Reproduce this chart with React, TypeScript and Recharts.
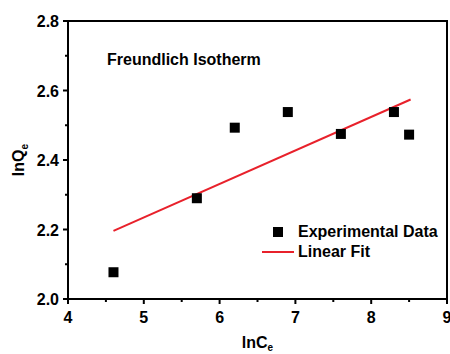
import React from 'react';
import { ComposedChart, Scatter, XAxis, YAxis, ReferenceArea } from 'recharts';

const lnCe = [4.6, 5.7, 6.2, 6.9, 7.6, 8.3, 8.5];
const lnQe = [2.077, 2.29, 2.493, 2.538, 2.475, 2.538, 2.473];
const fitX = [4.6, 8.52];
const fitY = [2.196, 2.574];
const xTicks = [4, 4.5, 5, 5.5, 6, 6.5, 7, 7.5, 8, 8.5, 9];
const yTicks = [2.0, 2.1, 2.2, 2.3, 2.4, 2.5, 2.6, 2.7, 2.8];
const xDomain = [4, 9];
const yDomain = [2.0, 2.8];

const points = lnCe.map((x, i) => ({ x, y: lnQe[i] }));
const fitLine = fitX.map((x, i) => ({ x, y: fitY[i] }));

const FONT = '"Liberation Sans", Arial, sans-serif';
const RED = '#e8212b';

const XTick = (props: any) => {
  const { x, y, payload } = props;
  const major = Math.abs(payload.value - Math.round(payload.value)) < 1e-6;
  return (
    <g>
      <line x1={x} x2={x} y1={y} y2={y + (major ? 5 : 3)} stroke="#000" strokeWidth={2} />
      {major && (
        <text x={x} y={y + 24} textAnchor="middle" fontFamily={FONT} fontWeight="bold" fontSize={16} fill="#000">
          {payload.value}
        </text>
      )}
    </g>
  );
};

const YTick = (props: any) => {
  const { x, y, payload } = props;
  const major = Math.round(payload.value * 10) % 2 === 0;
  return (
    <g>
      <line x1={x} x2={x - (major ? 5 : 3)} y1={y} y2={y} stroke="#000" strokeWidth={2} />
      {major && (
        <text x={x - 9} y={y + 6} textAnchor="end" fontFamily={FONT} fontWeight="bold" fontSize={16} fill="#000">
          {payload.value.toFixed(1)}
        </text>
      )}
    </g>
  );
};

const Square = (props: any) => {
  const { cx, cy } = props;
  return <rect x={cx - 5} y={cy - 5} width={10} height={10} fill="#000" />;
};

const NoShape = () => <g />;

const YLabel = (props: any) => {
  const { viewBox } = props;
  const cx = viewBox.x + 24;
  const cy = viewBox.y + viewBox.height / 2;
  return (
    <text
      x={cx}
      y={cy}
      transform={`rotate(-90 ${cx} ${cy})`}
      textAnchor="middle"
      fontFamily={FONT}
      fontWeight="bold"
      fontSize={16}
      fill="#000"
    >
      lnQ<tspan fontSize={10} dy={4}>e</tspan>
    </text>
  );
};

const XLabel = (props: any) => {
  const { viewBox } = props;
  return (
    <text
      x={viewBox.x + viewBox.width / 2}
      y={viewBox.y + 49}
      textAnchor="middle"
      fontFamily={FONT}
      fontWeight="bold"
      fontSize={16}
      fill="#000"
    >
      lnC<tspan fontSize={10} dy={3}>e</tspan>
    </text>
  );
};

const textStyle: React.CSSProperties = {
  position: 'absolute',
  fontFamily: FONT,
  fontWeight: 'bold',
  fontSize: 16,
  lineHeight: '16px',
  color: '#000',
  whiteSpace: 'nowrap',
};

export default function App() {
  return (
    <div style={{ position: 'absolute', left: 0, top: 0, width: 450, height: 354, background: '#fff' }}>
      <ComposedChart width={450} height={354} margin={{ top: 21, right: 3, bottom: 0, left: 0 }}>
        <XAxis
          type="number"
          dataKey="x"
          domain={xDomain}
          ticks={xTicks}
          tick={<XTick />}
          tickLine={false}
          tickSize={0}
          tickMargin={0}
          axisLine={{ stroke: '#000', strokeWidth: 2 }}
          height={55}
          interval={0}
          allowDataOverflow
          label={{ content: <XLabel /> }}
        />
        <YAxis
          type="number"
          dataKey="y"
          domain={yDomain}
          ticks={yTicks}
          tick={<YTick />}
          tickLine={false}
          tickSize={0}
          tickMargin={0}
          axisLine={{ stroke: '#000', strokeWidth: 2 }}
          width={68}
          interval={0}
          allowDataOverflow
          label={{ content: <YLabel /> }}
        />
        {/* plot frame */}
        <ReferenceArea
          x1={xDomain[0]}
          x2={xDomain[1]}
          y1={yDomain[0]}
          y2={yDomain[1]}
          fill="none"
          fillOpacity={0}
          stroke="#000"
          strokeWidth={2}
          strokeOpacity={1}
          ifOverflow="visible"
        />
        <Scatter
          name="Linear Fit"
          data={fitLine}
          line={{ stroke: RED, strokeWidth: 2 }}
          shape={<NoShape />}
          isAnimationActive={false}
        />
        <Scatter name="Experimental Data" data={points} shape={<Square />} isAnimationActive={false} />
      </ComposedChart>
      <div style={{ ...textStyle, left: 107, top: 52 }}>Freundlich Isotherm</div>
      <div style={{ position: 'absolute', left: 262, top: 223 }}>
        <div style={{ position: 'absolute', left: 11, top: 4, width: 10, height: 10, background: '#000' }} />
        <div style={{ ...textStyle, left: 36, top: 1 }}>Experimental Data</div>
        <div style={{ position: 'absolute', left: 0, top: 28, width: 32, height: 2, background: RED }} />
        <div style={{ ...textStyle, left: 36, top: 21 }}>Linear Fit</div>
      </div>
    </div>
  );
}
